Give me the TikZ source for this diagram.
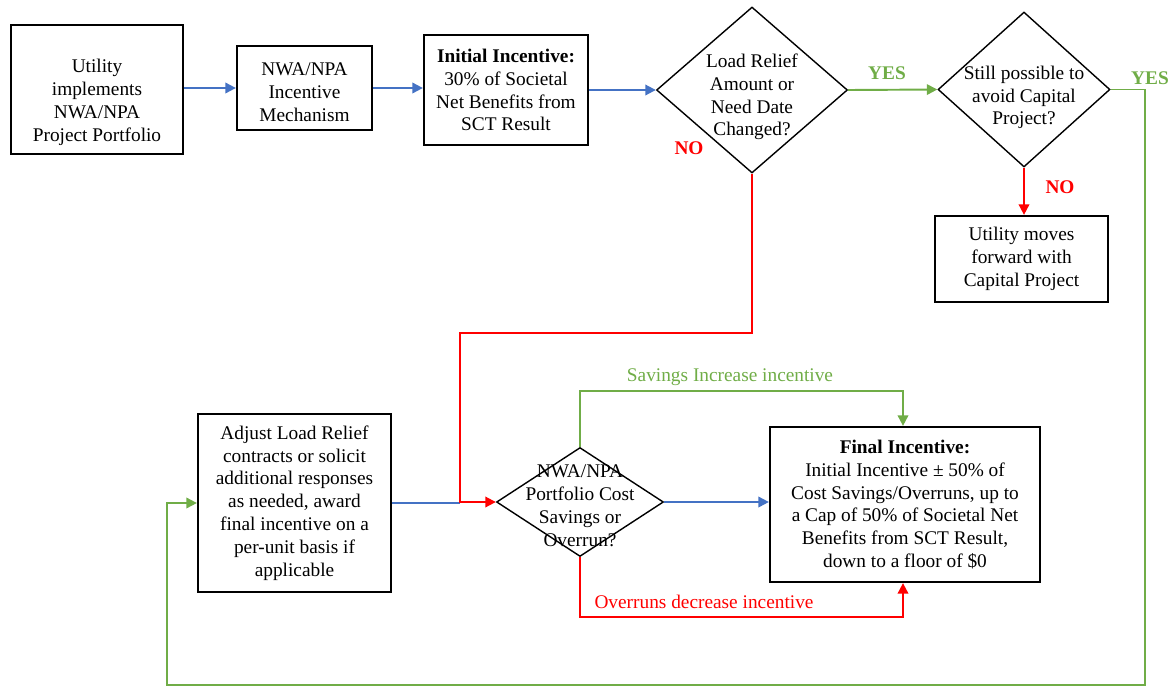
\documentclass[tikz,border=0pt]{standalone}
\usepackage{fontspec}
\setmainfont{Liberation Serif}
\usetikzlibrary{shapes.geometric,arrows.meta}
\definecolor{flowblue}{RGB}{68,114,196}
\definecolor{flowgreen}{RGB}{112,173,71}
\definecolor{flowred}{RGB}{255,0,0}

\begin{document}
\begin{tikzpicture}[x=0.02cm,y=-0.02cm,
  txt/.style={font=\fontsize{11}{13}\selectfont, align=center},
  box/.style={txt, draw, line width=1.3pt, inner sep=2pt},
  decision/.style={draw, shape=diamond, line width=0.8pt, inner sep=0pt},
  dtext/.style={txt, inner sep=0pt},
  flow/.style={line width=1.1pt, -{Triangle[length=6pt,width=6pt]}},
  link/.style={line width=1.1pt},
  answer/.style={font=\fontsize{11}{13}\selectfont\bfseries}]
  \useasboundingbox (0,0) rectangle (1173,687);
  % top row
  \node[box, minimum width=3.44cm, minimum height=2.58cm] (util) at (97,89.5)
    {\rule{0pt}{22pt}Utility\\implements\\NWA/NPA\\Project Portfolio};
  \node[box, minimum width=2.7cm, minimum height=1.68cm] (mech) at (304.5,88)
    {\rule{0pt}{12pt}NWA/NPA\\Incentive\\Mechanism};
  \node[box, minimum width=3.28cm, minimum height=2.2cm] (init) at (506,90)
    {\textbf{Initial Incentive:}\\30\% of Societal\\Net Benefits from\\SCT Result};
  \node[decision, minimum width=3.82cm, minimum height=3.32cm,
    label={[dtext,yshift=-0.14cm]center:Load Relief\\Amount or\\Need Date\\Changed?}] (relief) at (752,90) {};
  \node[decision, minimum width=3.44cm, minimum height=3.1cm,
    label={[dtext,yshift=-0.16cm]center:Still possible to\\avoid Capital\\Project?}] (avoid) at (1024,89.5) {};
  \node[box, minimum width=3.46cm, minimum height=1.72cm] (capital) at (1021.5,259)
    {Utility moves\\forward with\\Capital Project};
  % bottom row
  \node[box, minimum width=3.86cm, minimum height=3.56cm] (adjust) at (294.5,503)
    {Adjust Load Relief\\contracts or solicit\\additional responses\\as needed, award\\final incentive on a\\per-unit basis if\\applicable};
  \node[decision, minimum width=3.34cm, minimum height=2.18cm,
    label={[dtext,yshift=-0.08cm]center:NWA/NPA\\Portfolio Cost\\Savings or\\Overrun?}] (cost) at (580,502) {};
  \node[box, minimum width=5.4cm, minimum height=3.1cm] (final) at (905,504.5)
    {\textbf{Final Incentive:}\\Initial Incentive ± 50\% of\\Cost Savings/Overruns, up to\\a Cap of 50\% of Societal Net\\Benefits from SCT Result,\\down to a floor of \$0};

  \coordinate (redturn) at (460,333);
  \coordinate (loopR) at (1145,685);
  \coordinate (loopL) at (167,685);
  \coordinate (savetop) at (903,391);
  \coordinate (overbot) at (903,617);

  % connectors
  \draw[flow, flowblue] (util.east |- mech) -- (mech.west);
  \draw[flow, flowblue] (mech.east) -- (init.west |- mech);
  \draw[flow, flowblue] (init.east) -- (relief.west);
  \draw[flow, flowgreen] (relief.east) -- (avoid.west);
  \draw[flow, flowred] (avoid.south) -- (avoid.south |- capital.north);
  \draw[flow, flowgreen] (avoid.east) -| (loopR) -- (loopL) |- (adjust.west);
  \draw[link, flowblue] (adjust.east) -- (adjust.east -| redturn);
  \draw[flow, flowred] (relief.south) |- (redturn) |- (cost.west);
  \draw[flow, flowblue] (cost.east) -- (cost.east -| final.west);
  \draw[flow, flowgreen] (cost.north) |- (savetop) -- (savetop |- final.north);
  \draw[flow, flowred] (cost.south) |- (overbot) -- (overbot |- final.south);

  % labels
  \node[answer, text=flowgreen] (yes1) at (887,73) {YES};
  \node[answer, text=flowgreen] (yes2) at (1150,78) {YES};
  \node[answer, text=flowred] (no1) at (689,148) {NO};
  \node[answer, text=flowred] (no2) at (1060,187) {NO};
  \node[txt, text=flowgreen] (savelbl) at (730,377) {Savings Increase incentive};
  \node[txt, text=flowred] (overlbl) at (704,602) {Overruns decrease incentive};
\end{tikzpicture}
\end{document}
